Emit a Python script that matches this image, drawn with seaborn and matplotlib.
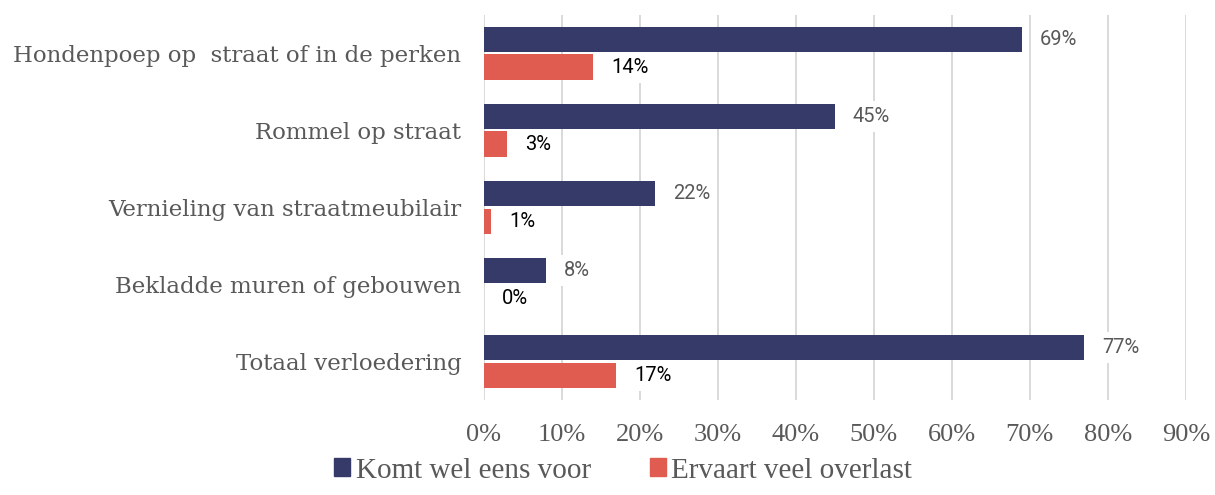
import pandas as pd
import matplotlib
matplotlib.use("Agg")
import matplotlib.pyplot as plt
import seaborn as sns

# ---- data ----
categories = ['Hondenpoep op  straat of in de perken', 'Rommel op straat',
              'Vernieling van straatmeubilair', 'Bekladde muren of gebouwen',
              'Totaal verloedering']
series_names = ['Komt wel eens voor', 'Ervaart veel overlast']
komt_voor = [69, 45, 22, 8, 77]
overlast = [14, 3, 1, 0, 17]
x_ticks = [0, 10, 20, 30, 40, 50, 60, 70, 80, 90]

navy = '#363a68'
red = '#e05c50'

df = pd.DataFrame({
    'categorie': categories * 2,
    'serie': [series_names[0]] * len(categories) + [series_names[1]] * len(categories),
    'waarde': komt_voor + overlast,
})

sns.set_style('white')
fig = plt.figure(figsize=(12.15, 4.95), dpi=100)
ax = fig.add_axes([0.398, 0.192, 0.578, 0.778])

sns.barplot(data=df, y='categorie', x='waarde', hue='serie', order=categories,
            hue_order=series_names, palette=[navy, red], orient='h',
            width=0.72, gap=0.08, saturation=1, ax=ax, legend=False,
            edgecolor='none', linewidth=0)

ax.set_xlim(0, 90)
ax.set_xticks(x_ticks)
ax.set_xticklabels([f'{t}%' for t in x_ticks], family='Liberation Serif',
                   fontsize=19, color='#595959')
ax.set_yticklabels(categories, family='DejaVu Serif', fontsize=16.5, color='#595959')
ax.tick_params(axis='y', length=0, pad=16)
ax.tick_params(axis='x', length=0, pad=17)
ax.set_xlabel('')
ax.set_ylabel('')
ax.grid(axis='x', color='#d9d9d9', linewidth=1.4)
ax.set_axisbelow(True)
for s in ax.spines.values():
    s.set_visible(False)

# value labels
for cont, fc in zip(ax.containers, ['#595959', 'black']):
    for bar in cont:
        w = bar.get_width()
        yc = bar.get_y() + bar.get_height() / 2
        ax.annotate(f'{w:.0f}%', (w, yc), xytext=(13, 0), textcoords='offset points',
                    va='center', ha='left', family='Roboto', fontsize=14.5, color=fc,
                    bbox=dict(boxstyle='square,pad=0.3', fc='white', ec='none'))

handles = [plt.Rectangle((0, 0), 1, 1, color=c) for c in [navy, red]]
fig.legend(handles, series_names, loc='lower center', bbox_to_anchor=(0.513, -0.03),
           ncol=2, frameon=False, prop={'family': 'Liberation Serif', 'size': 21},
           handlelength=0.55, handleheight=0.55, handletextpad=0.2, columnspacing=2.0,
           labelcolor='#595959')

fig.savefig('out.png', dpi=100)
